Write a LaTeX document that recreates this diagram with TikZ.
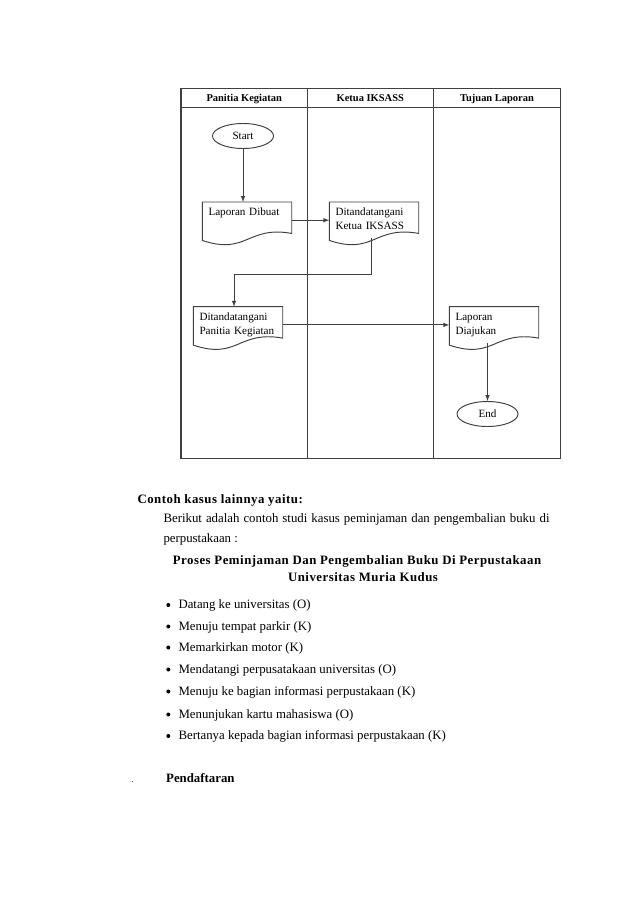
\documentclass[tikz,border=0pt]{standalone}
\usepackage{fontspec}
\setmainfont{Liberation Serif}
\usetikzlibrary{shapes,arrows,positioning,calc}

\newdimen\px
\px=0.0329cm
\hyphenpenalty=10000

\begin{document}
\begin{tikzpicture}[x=1\px, y=-1\px, >=latex,
        every node/.style={font=\fontsize{12}{14}\selectfont},
        lane/.style={draw=black!75, line width=1.1pt},
        lanehead/.style={anchor=base, font=\fontsize{9.8}{12}\selectfont\bfseries},
        terminal/.style={ellipse, draw=black!75, line width=0.9pt, minimum width=61\px, minimum height=25\px, inner sep=0pt, font=\fontsize{10.4}{12}\selectfont},
        doc/.style={anchor=north west, text width=77\px, inner xsep=6\px, inner ysep=4.5\px, text height=9\px, text depth=18\px, align=left, font=\fontsize{10.4}{12.8}\selectfont},
        docline/.style={draw=black!75, line width=0.9pt},
        flow/.style={->, draw=black!75, line width=0.9pt},
        spaced/.style={font=\fontsize{12}{14}\selectfont\bfseries\addfontfeature{LetterSpace=4}},
        item/.style={anchor=base west, inner sep=0pt}]
        \useasboundingbox (0,0) rectangle (638,907);

        % Swimlanes
        \draw[lane] (181,88.3) rectangle (560.7,458.3);
        \draw[lane] (181,107.3) -- (560.7,107.3);
        \draw[lane] (307.3,88.3) -- (307.3,458.3);
        \draw[lane] (433.3,88.3) -- (433.3,458.3);
        \node[lanehead] (hpanitia) at (244.2,101.5) {Panitia Kegiatan};
        \node[lanehead] (hketua) at (370.3,101.5) {Ketua IKSASS};
        \node[lanehead] (htujuan) at (497,101.5) {Tujuan Laporan};

        % Flow nodes
        \node[terminal] (start) at (243,136) {Start};
        \node[doc] (dibuat) at (202.3,202) {Laporan Dibuat};
        \node[doc] (ketua) at (329.3,202) {Ditandatangani\\Ketua IKSASS};
        \node[doc] (panitia) at (193.3,306.7) {Ditandatangani\\Panitia Kegiatan};
        \node[doc] (diajukan) at (449.3,306.7) {Laporan\\Diajukan};
        \node[terminal] (finish) at (487.5,414) {End};

        % Document outlines
        \foreach \n in {dibuat,ketua,panitia,diajukan}
            \draw[docline] (\n.north west) -- (\n.north east) -- ($(\n.south east)+(0,-5)$)
                .. controls ($(\n.south)+(0,-13)$) and ($(\n.south)+(0,17)$) .. ($(\n.south west)+(0,2)$) -- cycle;

        % Arrows
        \draw[flow] (start) -- (start |- dibuat.north);
        \draw[flow] (dibuat.east) -- (ketua.west);
        \draw[flow] ([xshift=-3\px]ketua.south) -- ++(0,36) -| ([xshift=-4\px]panitia.north);
        \draw[flow] (panitia.east) -- (diajukan.west);
        \draw[flow] (finish |- diajukan.south) -- (finish);

        % Text below
        \node[spaced, anchor=base west, inner sep=0pt] (contoh) at (137.3,503.5) {Contoh kasus lainnya yaitu:};
        \node[anchor=base west, inner sep=0pt, text width=386\px, align=justify,
            font=\fontsize{12}{18.25}\selectfont] (intro) at (163.3,522.5)
            {Berikut adalah contoh studi kasus peminjaman dan pengembalian buku di perpustakaan :};
        \node[spaced, anchor=base, inner sep=0pt] (judul) at (357,564.5) {Proses Peminjaman Dan Pengembalian Buku Di Perpustakaan};
        \node[spaced, anchor=base, inner sep=0pt] (kampus) at (363,581.5) {Universitas Muria Kudus};

        \foreach \y/\t [count=\i] in {608.5/Datang ke universitas (O), 630/Menuju tempat parkir (K),
                651/Memarkirkan motor (K), 673/Mendatangi perpusatakaan universitas (O),
                695/Menuju ke bagian informasi perpustakaan (K), 718/Menunjukan kartu mahasiswa (O),
                739.5/Bertanya kepada bagian informasi perpustakaan (K)} {
            \fill (168.3,\y-3.5) circle[radius=2\px];
            \node[item] (item\i) at (178.3,\y) {\t};
        }

        \node[anchor=base, inner sep=0pt, font=\fontsize{8}{9}\selectfont] (titik) at (132.5,782) {.};
        \node[anchor=base west, inner sep=0pt, font=\fontsize{12}{14}\selectfont\bfseries] (daftar) at (166,782) {Pendaftaran};
    \end{tikzpicture}
\end{document}
